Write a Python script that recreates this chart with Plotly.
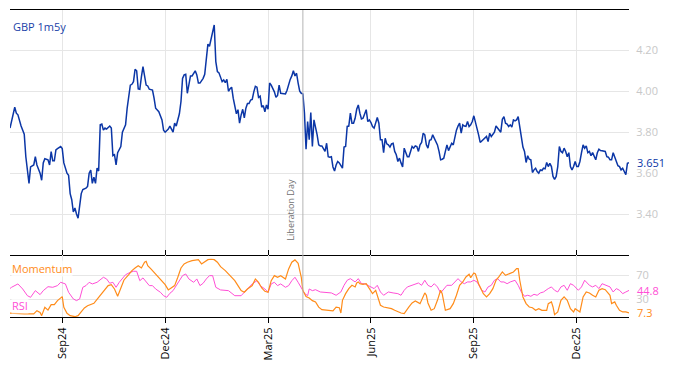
import pandas as pd
import plotly.graph_objects as go

# ---------------- data (business-day index from 2024-07-17) ----------------
start_date = "2024-07-17"
n_days = 392

price_day = [0,3,4,5,7,9,10,12,13,15,16,17,19,20,21,22,24,25,26,27,28,29,30,32,33,34,36,37,38,39,40,41,42,43,44,45,46,48,49,50,
             51,52,53,54,55,56,57,58,59,60,61,63,64,65,66,67,68,70,71,73,74,76,77,78,79,80,81,82,83,84,86,87,88,90,91,92,94,96,97,98,
             100,101,103,104,105,107,108,109,110,111,112,113,114,115,117,118,119,120,122,123,124,125,126,127,129,130,131,132,134,135,
             136,137,138,139,140,141,142,143,144,145,146,147,148,149,150,151,152,153,154,155,156,157,158,159,160,161,162,163,164,165,
             167,168,169,170,171,172,174,175,176,177,178,179,180,181,182,183,184,185,186,187,188,189,190,191,192,193,194,195,196,197,
             199,200,201,202,203,204,205,206,207,208,210,211,212,213,214,215,216,217,218,219,220,221,222,223,224,225,226,227,228,229,
             230,231,232,233,234,235,236,237,238,239,240,241,242,243,244,245,246,247,248,249,251,252,253,254,255,256,257,258,259,260,
             261,262,263,264,265,266,267,268,269,270,271,272,273,274,275,276,277,279,280,281,282,283,284,285,286,287,288,289,290,291,
             292,293,294,295,296,297,299,300,301,302,303,304,305,306,307,308,309,310,311,312,313,314,315,316,317,318,319,320,321,322,
             323,324,325,326,327,328,329,330,331,332,333,334,335,336,337,338,339,340,341,342,343,344,345,346,347,348,349,350,351,352,
             353,354,355,356,357,358,359,360,361,362,363,364,365,366,367,368,370,371,372,373,374,375,376,377,378,379,380,381,382,383,
             384,385,386,387,388,389,390,391]
price_val = [3.82,3.922,3.893,3.885,3.83,3.79,3.68,3.55,3.63,3.64,3.68,3.64,3.60,3.565,3.65,3.67,3.665,3.64,3.705,3.66,3.66,3.714,3.72,3.73,3.72,3.65,3.60,3.59,3.50,3.47,3.41,3.43,3.40,3.38,3.44,3.50,3.52,3.527,3.535,3.60,
             3.615,3.55,3.58,3.55,3.625,3.61,3.836,3.84,3.81,3.82,3.815,3.83,3.82,3.685,3.69,3.64,3.70,3.73,3.80,3.836,3.917,4.03,4.034,4.047,4.107,4.10,4.012,4.01,4.07,4.12,4.03,4.026,4.01,4.006,3.966,3.917,3.90,3.86,3.81,3.80,
             3.815,3.83,3.80,3.844,3.83,3.89,3.95,4.063,4.08,4.083,3.99,4.03,4.075,4.075,4.10,4.08,4.04,4.04,4.063,4.083,4.153,4.23,4.22,4.25,4.324,4.145,4.096,4.09,4.047,4.055,
             4.042,4.058,4.00,4.012,4.02,3.966,3.925,3.89,3.91,3.844,3.885,3.912,3.87,3.917,3.94,3.94,3.957,3.96,3.997,4.024,4.02,3.97,3.976,3.922,3.93,3.90,3.933,3.912,4.04,4.03,
             3.997,3.97,3.98,4.03,3.99,3.99,3.987,4.005,4.04,4.058,4.075,4.10,4.075,4.088,4.04,4.00,3.99,3.987,3.893,3.717,3.852,3.763,3.896,3.73,3.86,3.828,3.787,3.738,3.733,3.733,
             3.706,3.746,3.68,3.678,3.68,3.63,3.61,3.64,3.657,3.65,3.624,3.727,3.73,3.828,3.83,3.893,3.844,3.844,3.868,3.912,3.933,3.893,3.865,3.868,3.885,3.91,3.852,3.86,3.847,3.828,
             3.82,3.852,3.872,3.844,3.763,3.763,3.70,3.77,3.743,3.738,3.727,3.743,3.746,3.706,3.69,3.657,3.673,3.65,3.63,3.722,3.68,3.68,3.706,3.73,3.722,3.733,3.73,3.706,3.738,3.75,
             3.795,3.787,3.738,3.722,3.76,3.763,3.787,3.77,3.76,3.738,3.706,3.665,3.668,3.673,3.706,3.738,3.71,3.746,3.738,3.779,3.81,3.83,3.844,3.795,3.836,3.83,3.828,3.852,3.828,3.836,
             3.852,3.88,3.85,3.828,3.787,3.75,3.763,3.77,3.779,3.754,3.795,3.779,3.787,3.80,3.83,3.82,3.81,3.80,3.863,3.876,3.844,3.84,3.828,3.836,3.825,3.86,3.855,3.86,3.876,3.828,
             3.795,3.727,3.706,3.652,3.685,3.668,3.665,3.603,3.616,3.624,3.608,3.60,3.616,3.613,3.624,3.621,3.652,3.632,3.648,3.632,3.584,3.57,3.584,3.632,3.73,3.706,3.70,3.722,3.706,3.68,
             3.70,3.632,3.616,3.632,3.657,3.632,3.632,3.657,3.70,3.738,3.722,3.733,3.70,3.706,3.685,3.70,3.665,3.70,3.717,3.71,3.709,3.709,3.706,3.68,3.678,3.665,3.665,3.70,3.68,3.665,
             3.636,3.632,3.616,3.624,3.608,3.592,3.648,3.651]

mom_day = [0,5,9,15,17,19,20,22,24,26,28,30,32,33,34,36,38,41,43,45,47,49,51,53,56,58,60,62,64,66,68,70,72,75,77,79,81,83,85,86,
           87,89,91,93,96,98,100,102,104,106,108,110,112,115,117,119,121,123,125,127,129,131,133,136,138,140,142,144,146,148,150,153,155,157,159,161,163,165,167,169,
           171,174,176,178,180,182,184,185,187,189,191,193,195,197,200,202,204,206,208,209,210,212,214,216,218,219,220,221,223,225,227,229,231,232,234,236,239,241,243,245,
           247,249,250,252,254,256,259,260,262,263,264,266,268,270,272,273,275,278,280,282,284,286,288,290,291,293,294,296,299,301,303,305,307,309,311,313,315,318,320,321,
           322,324,326,328,330,332,334,336,339,340,342,343,344,346,348,350,352,354,356,357,360,362,364,366,368,370,372,374,376,379,380,382,383,385,387,389,391]
mom_val = [7,5.6,5.6,5.6,11,8,2.8,16.7,12,21,21,27.8,33.3,34.4,16.7,6.7,2.8,1,2.8,10,15.6,19.4,21,23.3,33.3,40,47.2,52.8,54.4,47.2,35,50,62.2,71,77.8,82.2,86,82.2,91.7,93.3,
           86,80.6,75,67.8,61,54.4,45.6,50,52.8,66.7,82.2,88.9,91.7,94.4,95.6,96,89,93.3,96,96.7,96,91.7,84.4,77.8,72.2,66.7,61,52.8,44.4,41.7,47.2,52.8,63.9,58.3,48.9,43.3,41.7,61,69.4,66.7,
           69.4,63.9,80.6,91.7,95.6,90,66.7,44.4,34.4,32.2,27.8,25.6,17,12.8,11.7,10.6,10.6,17,16,7.2,28.3,39.4,47.8,53.3,50.6,57.2,58.9,56,55,56,47.8,39.4,45,36.7,20,17.2,16,14.4,11.7,8.9,
           7.2,6.1,10.6,17.2,23.9,27.2,22.8,29.4,40.6,36.7,23.9,11.7,14.4,28.3,45,39.4,11.7,14.4,22.8,36.7,53.3,58.9,67.2,71.7,66.1,73.9,72.2,56,39.4,33.9,39.4,47.8,61.7,68.3,75.6,70,72.8,75.6,81,81,
           61.7,33.9,22.8,17.2,16,11.7,14.4,11.7,11.7,22.8,25.6,17.2,4.4,8.9,28.3,33.9,28.3,14.4,8.9,14.4,8.9,33.9,42.2,40.6,36.7,33.9,45,47.8,46,36.7,22.8,25.6,20,11.7,8.9,8.9,7.3]

rsi_day = [0,1,5,8,11,13,16,19,21,24,27,30,32,35,37,40,42,44,46,48,50,52,55,57,59,61,63,65,67,69,71,73,76,78,80,82,84,86,88,90,
           92,95,97,99,101,103,105,107,109,111,113,116,118,120,122,124,126,128,130,133,138,142,146,148,150,153,156,158,161,163,165,167,169,171,174,176,178,180,182,184,
           186,188,189,191,193,196,200,203,206,209,211,213,215,218,220,222,224,226,228,230,232,234,236,239,242,245,247,249,251,254,258,260,262,264,266,268,270,272,274,276,
           279,281,283,285,287,289,291,293,295,298,300,302,304,306,308,310,312,314,316,319,321,323,325,327,329,331,333,335,337,340,342,344,346,348,350,352,354,356,359,361,
           363,366,368,370,372,374,376,379,381,383,385,387,389,391]
rsi_val = [48,50,55.6,47.2,36,33.3,44.4,37.8,44.4,51,50,52.8,58.3,55.6,41.7,30.6,27.8,30.6,50,52.8,58.3,55.6,58.3,62.2,66.7,63.9,56.7,58.3,50,58.3,63.9,71,75,76.7,76.7,61,65.6,58.3,52.8,52.8,
           47.2,41.7,36,33.3,40,44.4,52.8,61,69.4,72.2,63.9,58.3,63.9,52.8,56.7,63.9,69.4,69.4,50,45.6,44.4,36,36,41.7,47.2,55.6,61,52.8,47.2,41.7,55.6,58.3,52.8,55.6,50,52.8,61,66.7,58.3,50,
           40,36,47.2,44.4,46,42.2,40.6,40.6,36.7,42.2,53.3,61.7,64.4,58.9,64.4,56,56,53.3,50.6,47.8,53.3,42.2,36.7,42.2,40.6,39.4,36.7,45,50.6,53.3,57.2,53.3,61.7,53.3,50.6,56,50.6,40.6,47.8,53.3,
           53.3,58.9,64.4,58.9,56,58.9,58.9,61.7,58.9,45,42.2,50.6,53.3,61.7,64.4,58.9,58.9,56,58.9,61.7,53.3,42.2,35,36.7,35,38.3,36.7,40.6,42.2,47.8,50.6,45,42.2,50.6,53.3,45,56,53.3,45,50.6,
           61.7,53.3,50.6,53.3,47.8,56,53.3,50.6,42.2,47.8,45,39.4,42.2,44.8]

tick_dates = ["2024-09-02", "2024-12-02", "2025-03-03", "2025-06-02", "2025-09-01", "2025-12-01"]
tick_text = ["Sep24", "Dec24", "Mar25", "Jun25", "Sep25", "Dec25"]
event_date = "2025-04-02"
event_label = "Liberation Day"
series_name = "GBP 1m5y"
last_price = "3.651"
last_rsi = "44.8"
last_mom = "7.3"

# ---------------- build ----------------
bdays = pd.bdate_range(start_date, periods=n_days)
px_x = [bdays[i] for i in price_day]
mom_x = [bdays[i] for i in mom_day]
rsi_x = [bdays[i] for i in rsi_day]

BLUE = "#0b36a6"
ORANGE = "#ff8c1a"
PINK = "#ff4fd6"
GRID = "#e6e6e6"
FONT = "Open Sans, Noto Sans, sans-serif"

fig = go.Figure()
fig.add_trace(go.Scatter(x=px_x, y=price_val, mode="lines", line=dict(color=BLUE, width=1.5),
                         xaxis="x", yaxis="y", showlegend=False, hoverinfo="skip"))
fig.add_trace(go.Scatter(x=rsi_x, y=rsi_val, mode="lines", line=dict(color=PINK, width=1),
                         xaxis="x2", yaxis="y2", showlegend=False, hoverinfo="skip"))
fig.add_trace(go.Scatter(x=mom_x, y=mom_val, mode="lines", line=dict(color=ORANGE, width=1.2),
                         xaxis="x2", yaxis="y2", showlegend=False, hoverinfo="skip"))

xr = [bdays[0], bdays[-1]]
common_x = dict(type="date", range=xr, rangebreaks=[dict(bounds=["sat", "mon"])],
                tickvals=tick_dates, ticktext=tick_text, showgrid=True, gridcolor=GRID,
                showline=True, linecolor="black", linewidth=1, ticklen=5,
                tickcolor="black", zeroline=False, automargin=False)

bottom_frac = 62 / 307

fig.update_layout(
    width=674, height=366,
    margin=dict(l=10, r=45, t=10, b=49, autoexpand=False),
    paper_bgcolor="white", plot_bgcolor="white",
    font=dict(family=FONT, size=11, color="black"),
    xaxis=dict(**common_x, anchor="y", domain=[0, 1], mirror=True, ticks="inside",
               showticklabels=False, matches="x2"),
    xaxis2=dict(**common_x, anchor="y2", domain=[0, 1], mirror=False, ticks="outside",
                showticklabels=True, tickangle=-90, tickfont=dict(size=11, color="black")),
    yaxis=dict(domain=[bottom_frac, 1], side="right", range=[3.2, 4.397],
               tickvals=[3.4, 3.6, 3.8, 4.0, 4.2], tickformat=".2f", automargin=False,
               tickfont=dict(size=11, color="#c8c8c8"), showgrid=True, gridcolor=GRID,
               zeroline=False, showline=False, ticks="outside", ticklen=4, tickcolor="rgba(0,0,0,0)"),
    yaxis2=dict(domain=[0, bottom_frac], side="right", range=[0.5, 103.8], automargin=False,
                tickvals=[30, 70], tickfont=dict(size=11, color="#c8c8c8"), showgrid=True,
                gridcolor=GRID, zeroline=False, showline=False, ticks="outside", ticklen=4,
                tickcolor="rgba(0,0,0,0)"),
)

fig.add_shape(type="line", xref="x", yref="paper", x0=event_date, x1=event_date, y0=0, y1=1,
              line=dict(color="#b4b4b4", width=1))

fig.add_annotation(x=event_date, xref="x", y=3.26, yref="y", text=event_label, textangle=-90,
                   showarrow=False, xanchor="right", yanchor="bottom", xshift=-4,
                   font=dict(size=9, color="#707070"))

fig.add_annotation(x=0, xref="paper", y=1, yref="paper", text=series_name, showarrow=False,
                   xanchor="left", yanchor="top", xshift=1, yshift=-7,
                   font=dict(size=11, color="#1a3fa8"))

fig.add_annotation(x=0, xref="paper", y=bottom_frac, yref="paper", text="Momentum", showarrow=False,
                   xanchor="left", yanchor="top", xshift=1, yshift=-5,
                   bgcolor="rgba(255,255,255,0.75)", borderpad=0,
                   font=dict(size=11, color=ORANGE))
fig.add_annotation(x=0, xref="paper", y=0, yref="paper", text="RSI", showarrow=False,
                   xanchor="left", yanchor="bottom", xshift=1, yshift=3,
                   bgcolor="rgba(255,255,255,0.75)", borderpad=0,
                   font=dict(size=11, color=PINK))

fig.add_annotation(x=1, xref="paper", y=float(last_price), yref="y", text=last_price, showarrow=False,
                   xanchor="left", xshift=6, font=dict(size=11, color=BLUE))
fig.add_annotation(x=1, xref="paper", y=float(last_rsi), yref="y2", text=last_rsi, showarrow=False,
                   xanchor="left", xshift=6, font=dict(size=11, color=PINK))
fig.add_annotation(x=1, xref="paper", y=float(last_mom), yref="y2", text=last_mom, showarrow=False,
                   xanchor="left", xshift=6, font=dict(size=11, color=ORANGE))

fig.write_html("out.html", config={"displayModeBar": False},
               post_script="document.body.style.margin='0px';")
